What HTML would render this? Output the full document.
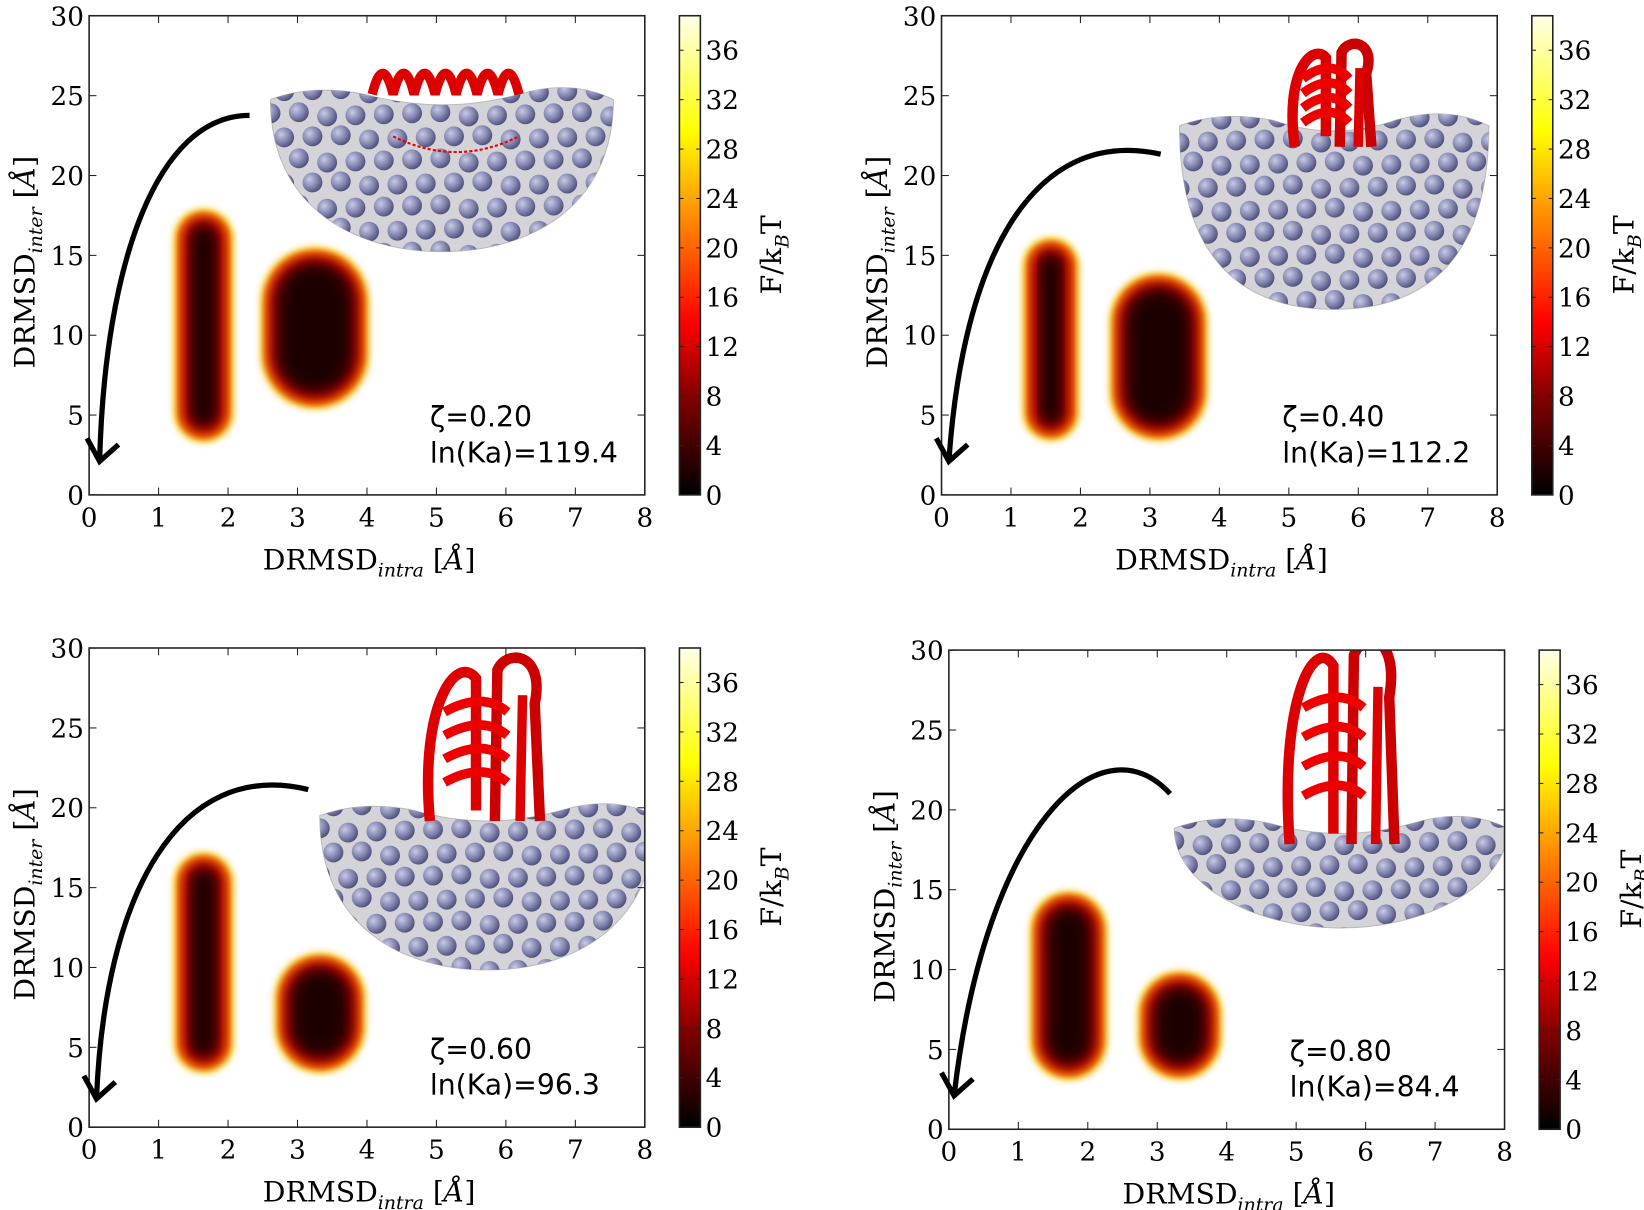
<!DOCTYPE html>
<html><head><meta charset="utf-8"><style>
html,body{margin:0;padding:0;background:#fff;}
svg{display:block;}
.t{font-family:"DejaVu Serif","Liberation Serif",serif;font-size:25px;fill:#000;}
.s{font-family:"DejaVu Sans","Liberation Sans",sans-serif;font-size:27px;fill:#000;}
</style></head><body>
<svg id="c" width="1644" height="1210" viewBox="0 0 1568 1154" preserveAspectRatio="none" xmlns="http://www.w3.org/2000/svg">
<defs>
<linearGradient id="cb" x1="0" y1="1" x2="0" y2="0">
<stop offset="0" stop-color="#000"/><stop offset="0.2" stop-color="#800000"/>
<stop offset="0.36" stop-color="#ff0000"/><stop offset="0.56" stop-color="#ff8000"/>
<stop offset="0.76" stop-color="#ffff00"/><stop offset="1" stop-color="#ffffe8"/>
</linearGradient>
<filter id="b1" x="-30%" y="-30%" width="160%" height="160%"><feGaussianBlur stdDeviation="6"/></filter>
<filter id="b2" x="-30%" y="-30%" width="160%" height="160%"><feGaussianBlur stdDeviation="2.5"/></filter>
<radialGradient id="sp" cx="0.35" cy="0.35" r="0.7"><stop offset="0" stop-color="#c8cae6"/><stop offset="0.6" stop-color="#7f82ac"/><stop offset="1" stop-color="#4c4e78"/></radialGradient>
</defs>
<g id="root"></g>
</svg>
<script>
let h="";
const panels=[
 {ox:0,oy:0,z:"0.20",k:"119.4",
  blobs:[[1.2,2.1,3.2,18],[2.45,4.05,5.3,15.6]],
  arrow:"M238,110 C150,110 100,250 95,440",np:[258,585,95,240,85],prot:[355,490,55,110,0]},
 {ox:813,oy:0,z:"0.40",k:"112.2",
  blobs:[[1.15,2.0,3.3,16.2],[2.4,3.85,3.3,14]],
  arrow:"M294,147 C170,120 105,250 92,440",np:[312,607,120,295,110],prot:[412,500,40,140,1]},
 {ox:0,oy:603,z:"0.60",k:"96.3",
  blobs:[[1.2,2.1,3.3,17.3],[2.65,4.0,3.3,11]],
  arrow:"M294,150 C170,120 100,250 92,445",np:[305,625,175,322,165],prot:[400,520,20,180,1]},
 {ox:820,oy:605,z:"0.80",k:"84.4",
  blobs:[[1.15,2.3,3,15],[2.7,3.95,3,10]],
  arrow:"M296,152 C230,80 120,180 90,440",np:[300,618,185,280,175],prot:[400,515,0,200,1]}
];
const X=v=>85+v*66.25, Y=v=>472-v*15.23;
panels.forEach((p,i)=>{
 h+=`<g transform="translate(${p.ox},${p.oy})">`;
 h+=`<clipPath id="ax${i}"><rect x="85" y="15" width="530" height="457"/></clipPath>`;
 h+=`<g clip-path="url(#ax${i})">`;
 p.blobs.forEach(b=>{
  const x0=X(b[0]),x1=X(b[1]),y0=Y(b[3]),y1=Y(b[2]);
  const w=x1-x0,hh=y1-y0;
  const layers=[["#ffff70",0,'b2'],["#ff9000",4,'b2'],["#d00000",8,'b1'],["#600000",14,'b1'],["#1a0000",20,'b1']];
  layers.forEach(l=>{const d=l[1];h+=`<rect x="${x0+d}" y="${y0+d}" width="${w-2*d}" height="${hh-2*d}" rx="${Math.min(w,hh)/2-d}" fill="${l[0]}" filter="url(#${l[2]})"/>`;});
 });
 const [x1,x2,yt,yb,ytop]=p.np; const cx=(x1+x2)/2;
 const path=`M${x1},${yt} Q${x1+40},${ytop-5} ${x1+90},${yt-5} Q${cx},${yt+15} ${x2-90},${yt-5} Q${x2-40},${ytop-10} ${x2},${yt} C${x2},${yb-40} ${cx+80},${yb} ${cx},${yb} C${cx-80},${yb} ${x1},${yb-40} ${x1},${yt} Z`;
 h+=`<clipPath id="np${i}"><path d="${path}"/></clipPath>`;
 h+=`<path d="${path}" fill="#d4d4d8" stroke="#bbb" stroke-width="1"/>`;
 h+=`<g clip-path="url(#np${i})">`;
 let r=0;
 for(let yy=ytop;yy<yb+10;yy+=22){r++;for(let xx=x1+((r%2)*13);xx<x2+10;xx+=27){h+=`<circle cx="${xx}" cy="${yy+((xx*7)%5)}" r="9.5" fill="url(#sp)"/>`;}}
 h+=`</g>`;
 const [px1,px2,py1,py2,ty]=p.prot;
 if(ty==0){
  h+=`<path d="M${px1},${py2-20} q10,-40 20,0 q10,-40 20,0 q10,-40 20,0 q10,-40 20,0 q10,-40 20,0 q10,-40 20,0 q10,-40 20,0" fill="none" stroke="#d00" stroke-width="9"/>`;
  h+=`<path d="M${px1+20},${py2+20} q60,30 120,0" fill="none" stroke="#e00" stroke-width="2" stroke-dasharray="3 2"/>`;
 } else {
  const w=px2-px1, hh=py2-py1;
  h+=`<path d="M${px1+10},${py2} C${px1},${py1+hh*0.3} ${px1+w*0.3},${py1} ${px1+w*0.45},${py1+hh*0.15} L${px1+w*0.45},${py2-10}" fill="none" stroke="#d00" stroke-width="10"/>`;
  h+=`<path d="M${px1+w*0.6},${py2} L${px1+w*0.62},${py1+hh*0.1} C${px1+w*0.7},${py1-5} ${px2},${py1} ${px2-10},${py1+hh*0.3} L${px2-5},${py2}" fill="none" stroke="#c00" stroke-width="10"/>`;
  for(let k=0;k<4;k++){h+=`<path d="M${px1+w*0.2},${py1+hh*(0.35+k*0.14)} q${w*0.3},-20 ${w*0.5},0" fill="none" stroke="#e00" stroke-width="9"/>`;}
  h+=`<path d="M${px1+w*0.8},${py2} L${px1+w*0.82},${py1+hh*0.25}" stroke="#d00" stroke-width="9"/>`;
 }
 h+=`</g>`;
 h+=`<rect x="85" y="15" width="530" height="457" fill="none" stroke="#222" stroke-width="1.5"/>`;
 for(let v=0;v<=8;v++){const x=X(v);h+=`<line x1="${x}" y1="472" x2="${x}" y2="465" stroke="#222"/><line x1="${x}" y1="15" x2="${x}" y2="22" stroke="#222"/><text class="t" x="${x}" y="502" text-anchor="middle">${v}</text>`;}
 for(let v=0;v<=30;v+=5){const y=Y(v);h+=`<line x1="85" y1="${y}" x2="92" y2="${y}" stroke="#222"/><line x1="615" y1="${y}" x2="608" y2="${y}" stroke="#222"/><text class="t" x="80" y="${y+9}" text-anchor="end">${v}</text>`;}
 h+=`<text class="t" x="352" y="543" text-anchor="middle" style="font-size:27px">DRMSD<tspan font-style="italic" font-size="18" dy="7">intra</tspan><tspan dy="-7"> [</tspan><tspan font-style="italic">Å</tspan>]</text>`;
 h+=`<text class="t" transform="translate(33,250) rotate(-90)" text-anchor="middle" style="font-size:27px">DRMSD<tspan font-style="italic" font-size="18" dy="7">inter</tspan><tspan dy="-7"> [</tspan><tspan font-style="italic">Å</tspan>]</text>`;
 h+=`<path d="${p.arrow}" fill="none" stroke="#000" stroke-width="5"/>`;
 const ae=p.arrow.split(" ").pop().split(","); const ax=+ae[0], ay=+ae[1];
 h+=`<path d="M${ax-12},${ay-22} L${ax},${ay} L${ax+18},${ay-16}" fill="none" stroke="#000" stroke-width="5"/>`;
 h+=`<text class="s" x="410" y="407">ζ=0.${p.z.slice(2)}</text><text class="s" x="410" y="441">ln(Ka)=${p.k}</text>`;
 h+=`<rect x="648" y="15" width="20" height="457" fill="url(#cb)" stroke="#222" stroke-width="1.5"/>`;
 for(let v=0;v<=36;v+=4){const y=472-v*11.78;h+=`<line x1="648" y1="${y}" x2="652" y2="${y}" stroke="#222"/><line x1="668" y1="${y}" x2="664" y2="${y}" stroke="#222"/><text class="t" x="673" y="${y+9}">${v}</text>`;}
 h+=`<text class="t" transform="translate(745,243) rotate(-90)" text-anchor="middle" style="font-size:27px">F/k<tspan font-style="italic" font-size="18" dy="7">B</tspan><tspan dy="-7">T</tspan></text>`;
 h+=`</g>`;
});
document.getElementById("root").innerHTML=h;
</script>
</body></html>
